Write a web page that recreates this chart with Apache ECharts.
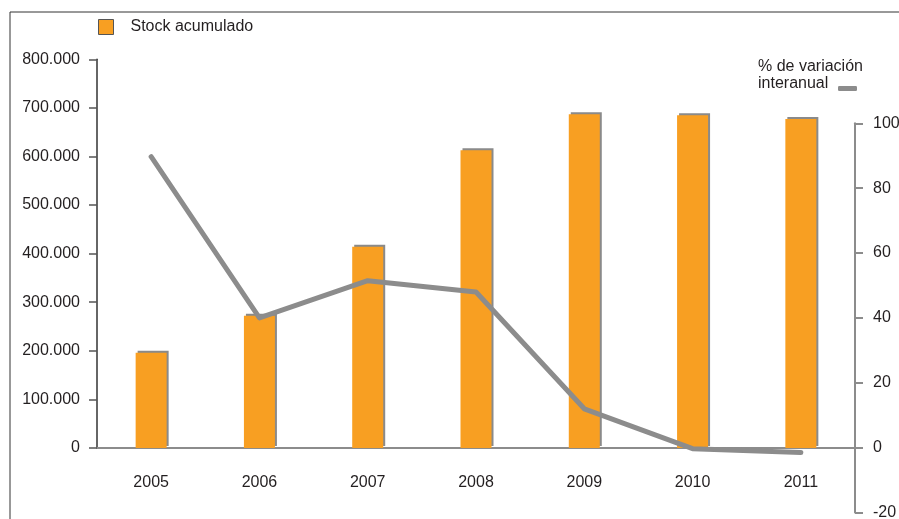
<!DOCTYPE html>
<html>
<head>
<meta charset="utf-8">
<script src="https://cdn.jsdelivr.net/npm/echarts@6/dist/echarts.min.js"></script>
<style>
  html, body { margin: 0; padding: 0; background: #ffffff; }
  #chart { width: 899px; height: 519px; }
</style>
</head>
<body>
<div id="chart"></div>
<script>
// Years on the category axis
const years = ['2005', '2006', '2007', '2008', '2009', '2010', '2011'];
// Accumulated stock (units)
const stockAcumulado = [196000, 272000, 414000, 613000, 687000, 685000, 677000];
// Year-on-year change (%)
const variacionInteranual = [89.7, 40, 51.5, 48, 12, -0.3, -1.5];
// Axis ranges
const stockAxis = { min: 0, max: 800000, step: 100000 };
const pctAxis = { min: -20, max: 100, step: 20 };

const FONT = '"Liberation Sans", Arial, sans-serif';
const TEXT = '#231f20';
const GREY = '#8c8c8c';
const ORANGE = '#f89f22';

const dotThousands = v => String(v).replace(/\B(?=(\d{3})+(?!\d))/g, '.');

const chart = echarts.init(document.getElementById('chart'), null, { renderer: 'canvas' });

chart.setOption({
  animation: false,
  backgroundColor: '#ffffff',
  textStyle: { fontFamily: FONT, color: TEXT },
  grid: [
    { left: 97, right: 44, top: 59.3, bottom: 71, containLabel: false, outerBoundsMode: 'none' },
    { left: 97, right: 44, top: 123.3, bottom: 6.4, containLabel: false, outerBoundsMode: 'none' }
  ],
  legend: [
    {
      data: ['Stock acumulado'],
      left: 98, top: 19, padding: 0,
      itemWidth: 15, itemHeight: 15,
      icon: 'rect',
      itemStyle: { borderColor: '#555555', borderWidth: 1, shadowColor: 'transparent', shadowOffsetX: 0, shadowOffsetY: 0 },
      textStyle: { fontFamily: FONT, fontSize: 16, color: TEXT, padding: [0, 0, 0, 12] },
      selectedMode: false
    },
    {
      data: ['% de variación interanual'],
      left: 838, top: 86, padding: 0,
      itemWidth: 19, itemHeight: 5,
      icon: 'roundRect',
      formatter: () => '',
      itemStyle: { color: GREY },
      selectedMode: false
    }
  ],
  graphic: [
    {
      type: 'rect',
      shape: { x: 10, y: 12, width: 1000, height: 1000 },
      style: { fill: 'none', stroke: '#333333', lineWidth: 1 },
      silent: true, z: 100
    },
    {
      type: 'text',
      left: 758, top: 58,
      style: {
        text: '% de variación\ninteranual',
        font: '16px ' + FONT,
        fill: TEXT,
        lineHeight: 17
      }
    }
  ],
  xAxis: [
    {
      type: 'category', gridIndex: 0, data: years, boundaryGap: true,
      axisLine: { show: true, lineStyle: { color: GREY, width: 2 } },
      axisTick: { show: false },
      axisLabel: { fontFamily: FONT, fontSize: 16, color: TEXT, margin: 27 },
      splitLine: { show: false }
    },
    {
      type: 'category', gridIndex: 1, data: years, boundaryGap: true,
      show: false
    }
  ],
  yAxis: [
    {
      type: 'value', gridIndex: 0, position: 'left',
      min: stockAxis.min, max: stockAxis.max, interval: stockAxis.step,
      axisLine: { show: true, lineStyle: { color: '#333333', width: 1.5 } },
      axisTick: { show: true, length: 8, lineStyle: { color: '#555555', width: 1.5 } },
      axisLabel: { fontFamily: FONT, fontSize: 16, color: TEXT, margin: 17, formatter: dotThousands },
      splitLine: { show: false }
    },
    {
      type: 'value', gridIndex: 1, position: 'right',
      min: pctAxis.min, max: pctAxis.max, interval: pctAxis.step,
      axisLine: { show: true, lineStyle: { color: GREY, width: 2 } },
      axisTick: { show: true, length: 8, lineStyle: { color: GREY, width: 2 } },
      axisLabel: { fontFamily: FONT, fontSize: 16, color: TEXT, margin: 18 },
      splitLine: { show: false }
    }
  ],
  series: [
    {
      name: 'Stock acumulado',
      type: 'bar',
      xAxisIndex: 0, yAxisIndex: 0,
      data: stockAcumulado,
      barWidth: 31,
      itemStyle: {
        color: ORANGE,
        shadowColor: '#8a8a8a',
        shadowBlur: 0,
        shadowOffsetX: 2,
        shadowOffsetY: -2
      },
      z: 2
    },
    {
      name: '% de variación interanual',
      type: 'line',
      xAxisIndex: 1, yAxisIndex: 1,
      data: variacionInteranual,
      symbol: 'none',
      lineStyle: { color: GREY, width: 5, cap: 'round', join: 'round' },
      itemStyle: { color: GREY },
      z: 5
    }
  ]
});
</script>
</body>
</html>
